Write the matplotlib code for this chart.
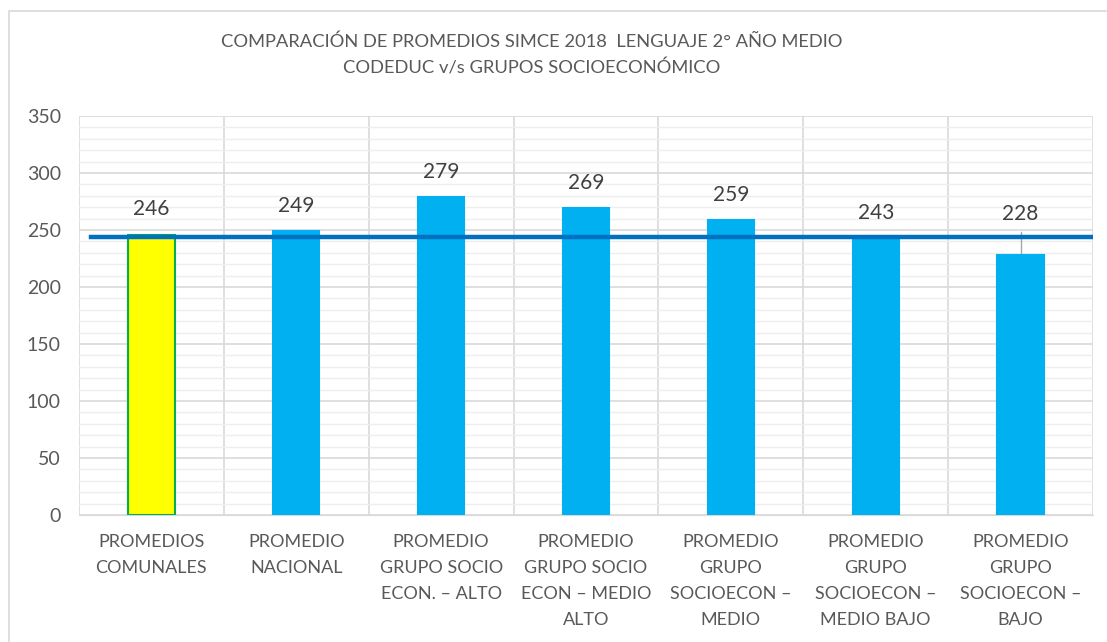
import matplotlib
matplotlib.use("Agg")
import matplotlib.pyplot as plt
from matplotlib.patches import Rectangle
from matplotlib.ticker import MultipleLocator

categories = ["PROMEDIOS\nCOMUNALES", "PROMEDIO\nNACIONAL",
              "PROMEDIO\nGRUPO SOCIO\nECON. – ALTO", "PROMEDIO\nGRUPO SOCIO\nECON – MEDIO\nALTO",
              "PROMEDIO\nGRUPO\nSOCIOECON –\nMEDIO", "PROMEDIO\nGRUPO\nSOCIOECON –\nMEDIO BAJO",
              "PROMEDIO\nGRUPO\nSOCIOECON –\nBAJO"]
values = [246, 249, 279, 269, 259, 243, 228]
reference_line = 244
yticks = [0, 50, 100, 150, 200, 250, 300, 350]
title = "COMPARACIÓN DE PROMEDIOS SIMCE 2018  LENGUAJE 2° AÑO MEDIO\nCODEDUC v/s GRUPOS SOCIOECONÓMICO"

plt.rcParams['font.family'] = ['Lato', 'DejaVu Sans']
txt = '#595959'

fig = plt.figure(figsize=(11.07, 6.42), dpi=100)
fig.patches.append(Rectangle((8.5/1107, -0.05), 1.1, 1.05 - 11/642, transform=fig.transFigure,
                             fill=False, edgecolor='#d9d9d9', linewidth=1.2))
ax = fig.add_axes([79/1107, 1 - 515/642, (1093 - 79)/1107, (515 - 116)/642])

n = len(categories)
x = list(range(n))
colors = ['#FFFF00'] + ['#00B0F0'] * (n - 1)
edges = ['#00B050'] + ['#00B0F0'] * (n - 1)
ax.bar(x, values, width=0.32, color=colors, edgecolor=edges, linewidth=1.5, zorder=3)

ax.set_xlim(-0.5, n - 0.5)
ax.set_ylim(0, 350)
ax.set_yticks(yticks)
ax.yaxis.set_minor_locator(MultipleLocator(10))
ax.grid(axis='y', which='major', color='#d9d9d9', linewidth=1.2, zorder=0)
ax.grid(axis='y', which='minor', color='#eeeeee', linewidth=1.0, zorder=0)
for b in range(n + 1):
    ax.axvline(b - 0.5, color='#d9d9d9', linewidth=1.2, zorder=0)

ax.plot([-0.42, n - 0.5], [reference_line, reference_line], color='#0070C0', linewidth=3.2, zorder=4)

for i, v in enumerate(values):
    if i == n - 1:
        ly = 264
        ax.plot([i, i], [v, 248], color='#a6a6a6', linewidth=1, zorder=2)
        ax.text(i, ly, str(v), ha='center', va='center', fontsize=15, color='#404040', zorder=5)
    else:
        ax.text(i, v + 22, str(v), ha='center', va='center', fontsize=15, color='#404040', zorder=5)

ax.set_xticks(x)
ax.set_xticklabels(categories, fontsize=13, color=txt, linespacing=1.75, va='top')
ax.tick_params(axis='x', length=0, pad=14)
ax.tick_params(axis='y', length=0, labelsize=14, labelcolor=txt, pad=13)
ax.tick_params(which='minor', length=0)
for s in ax.spines.values():
    s.set_visible(False)
ax.spines['bottom'].set_visible(True)
ax.spines['bottom'].set_color('#d9d9d9')

fig.text(532/1107, 1 - 55/642, title, ha='center', va='center', fontsize=13.2, color=txt, linespacing=1.65)

fig.savefig('out.png', dpi=100)
